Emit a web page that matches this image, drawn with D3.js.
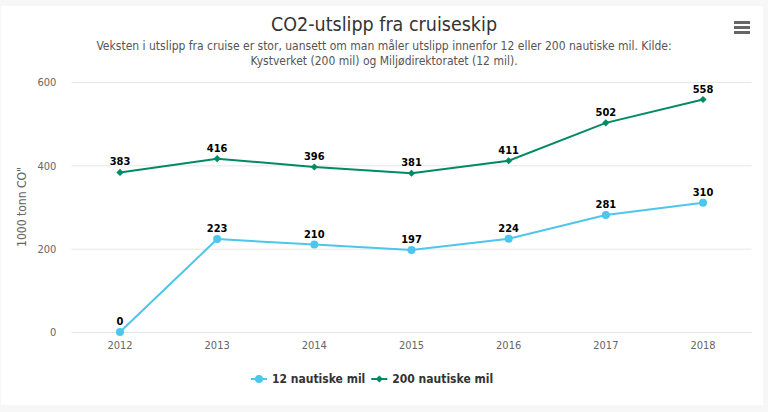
<!DOCTYPE html>
<html>
<head>
<meta charset="utf-8">
<script src="https://cdn.jsdelivr.net/npm/d3@7"></script>
<style>
  html, body { margin: 0; padding: 0; background: #f7f7f7; }
  svg { display: block; }
  text { font-family: "DejaVu Sans Condensed", "DejaVu Sans", sans-serif; }
</style>
</head>
<body>
<div id="chart"></div>
<script>
const years = ["2012", "2013", "2014", "2015", "2016", "2017", "2018"];
const mil12 = [0, 223, 210, 197, 224, 281, 310];
const mil200 = [383, 416, 396, 381, 411, 502, 558];
const yTicks = [0, 200, 400, 600];

const W = 768, H = 412;
const m = { left: 71.4, right: 16.4, top: 82, bottom: 80 };

const svg = d3.select("#chart").append("svg")
    .attr("width", W)
    .attr("height", H);

// card
svg.append("rect")
    .attr("x", 1).attr("y", 6)
    .attr("width", 762).attr("height", 399)
    .attr("fill", "#fff");

const x = d3.scaleBand()
    .domain(years)
    .range([m.left, W - m.right]);
const y = d3.scaleLinear()
    .domain([0, 600])
    .range([H - m.bottom, m.top]);
const cx = d => x(d) + x.bandwidth() / 2;

// title + subtitle
svg.append("text")
    .attr("x", 384).attr("y", 31)
    .attr("text-anchor", "middle")
    .style("font-size", "19.5px")
    .style("fill", "#333")
    .text("CO2-utslipp fra cruiseskip");
svg.append("text")
    .attr("x", 384).attr("y", 50)
    .attr("text-anchor", "middle")
    .style("font-size", "12px")
    .style("fill", "#555")
    .text("Veksten i utslipp fra cruise er stor, uansett om man måler utslipp innenfor 12 eller 200 nautiske mil. Kilde:");
svg.append("text")
    .attr("x", 384).attr("y", 65)
    .attr("text-anchor", "middle")
    .style("font-size", "12px")
    .style("fill", "#555")
    .text("Kystverket (200 mil) og Miljødirektoratet (12 mil).");

// menu icon
[0, 5, 10].forEach(dy => {
  svg.append("rect")
      .attr("x", 734).attr("y", 21 + dy)
      .attr("width", 16).attr("height", 3)
      .attr("fill", "#666");
});

// grid
const yAxis = svg.append("g")
    .attr("transform", `translate(${m.left},0)`)
    .call(d3.axisLeft(y).tickValues(yTicks).tickSize(-(W - m.left - m.right)).tickPadding(15));
yAxis.select(".domain").remove();
yAxis.selectAll("line").attr("stroke", "#e6e6e6");
yAxis.selectAll("text")
    .style("font-size", "11px")
    .style("fill", "#666")
    .attr("dy", "0.35em");

const xAxis = svg.append("g")
    .attr("transform", `translate(0,${H - m.bottom})`)
    .call(d3.axisBottom(x).tickSize(0).tickPadding(9));
xAxis.select(".domain").attr("stroke", "#e6e6e6");
xAxis.selectAll("text")
    .style("font-size", "11px")
    .style("fill", "#666");

svg.append("text")
    .attr("transform", `translate(26,${y(300)}) rotate(-90)`)
    .attr("text-anchor", "middle")
    .style("font-size", "12px")
    .style("fill", "#666")
    .text("1000 tonn CO\"");

const series = [
  { name: "12 nautiske mil", values: mil12, color: "#4cc6ec", symbol: d3.symbolCircle, size: 50, rot: 0 },
  { name: "200 nautiske mil", values: mil200, color: "#008a64", symbol: d3.symbolSquare, size: 26, rot: 45 }
];

const line = d3.line()
    .x((d, i) => cx(years[i]))
    .y(d => y(d));

series.forEach(s => {
  svg.append("path")
      .datum(s.values)
      .attr("d", line)
      .attr("fill", "none")
      .attr("stroke", s.color)
      .attr("stroke-width", 2);
  svg.append("g").selectAll("path")
      .data(s.values)
    .enter().append("path")
      .attr("transform", (d, i) => `translate(${cx(years[i])},${y(d)}) rotate(${s.rot})`)
      .attr("d", d3.symbol().type(s.symbol).size(s.size))
      .attr("fill", s.color);
  svg.append("g").selectAll("text")
      .data(s.values)
    .enter().append("text")
      .attr("x", (d, i) => cx(years[i]))
      .attr("y", d => y(d) - 7)
      .attr("text-anchor", "middle")
      .style("font-size", "11px")
      .style("font-weight", "bold")
      .style("fill", "#000")
      .style("stroke", "#fff")
      .style("stroke-width", 2)
      .style("paint-order", "stroke")
      .text(d => d);
});

// legend
const legend = svg.append("g");
let lx = 251;
series.forEach(s => {
  const g = legend.append("g").attr("transform", `translate(${lx},379)`);
  g.append("line").attr("x1", 0).attr("x2", 16).attr("stroke", s.color).attr("stroke-width", 2);
  g.append("path")
      .attr("transform", `translate(8,0) rotate(${s.rot})`)
      .attr("d", d3.symbol().type(s.symbol).size(s.size))
      .attr("fill", s.color);
  const t = g.append("text")
      .attr("x", 21).attr("dy", "0.35em")
      .style("font-size", "12px")
      .style("font-weight", "bold")
      .style("fill", "#333")
      .text(s.name);
  lx += 21 + t.node().getComputedTextLength() + 6;
});
</script>
</body>
</html>
